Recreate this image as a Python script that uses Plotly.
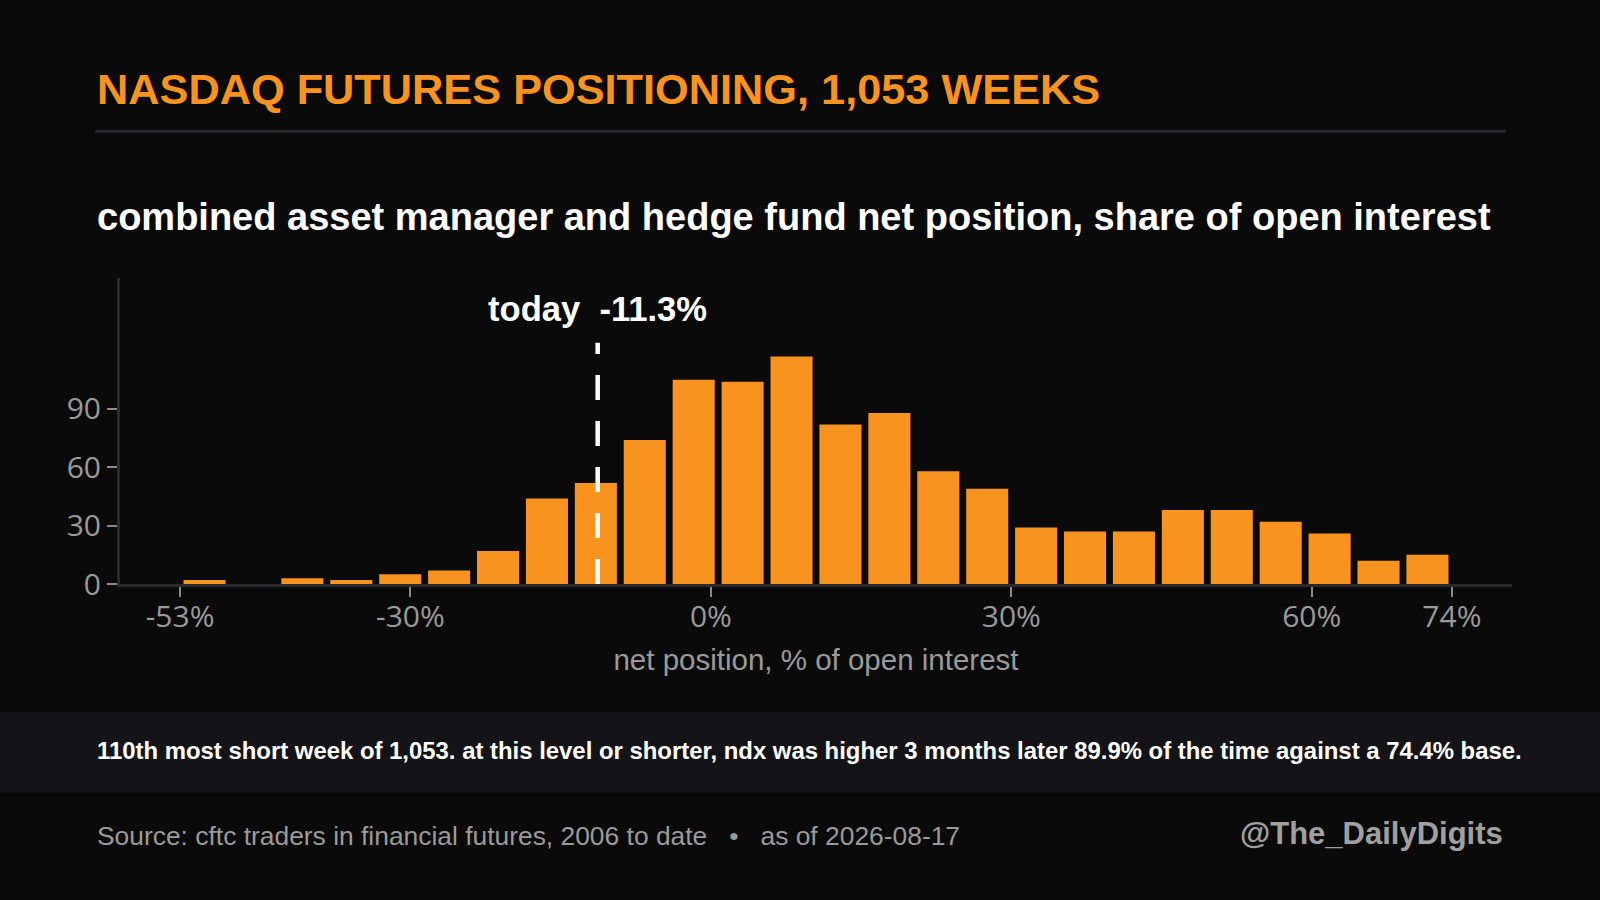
import numpy as np
import plotly.graph_objects as go

# histogram of weekly net positioning (% of open interest), 26 bins from min to max
bin_lo = -53.0
bin_hi = 74.0
counts = [2, 0, 3, 2, 5, 7, 17, 44, 52, 74, 105, 104, 117, 82, 88, 58, 49,
          29, 27, 27, 38, 38, 32, 26, 12, 15]
today = -11.3
x_ticks = [bin_lo, -30, 0, 30, 60, bin_hi]
y_ticks = [0, 30, 60, 90]

title = "NASDAQ FUTURES POSITIONING, 1,053 WEEKS"
subtitle = "combined asset manager and hedge fund net position, share of open interest"
note = ("110th most short week of 1,053. at this level or shorter, ndx was higher "
        "3 months later 89.9% of the time against a 74.4% base.")
source = "Source: cftc traders in financial futures, 2006 to date\u00a0\u00a0\u00a0•\u00a0\u00a0\u00a0as of 2026-08-17"
handle = "@The_DailyDigits"

ORANGE = "#F7931E"
BG = "#0a0a0a"
GREY = "#9a9a9a"

edges = np.linspace(bin_lo, bin_hi, len(counts) + 1)
centers = (edges[:-1] + edges[1:]) / 2
peak = max(counts)

# plot area in pixels, used to place the page furniture in paper coords
L, R, T, B = 120, 1512, 278, 584


def px(x):
    return (x - L) / (R - L)


def py(y):
    return (B - y) / (B - T)


fig = go.Figure()
fig.add_trace(go.Bar(x=centers, y=counts, marker=dict(color=ORANGE, line=dict(width=0)),
                     hoverinfo="x+y"))
fig.add_trace(go.Scatter(x=[today, today], y=[0, peak * 1.06], mode="lines",
                         line=dict(color="white", width=4.5, dash="25px,21px"),
                         hoverinfo="skip"))

fig.add_annotation(x=today, y=peak * 1.21, xref="x", yref="y",
                   text="today\u00a0\u00a0" + f"{today}%", showarrow=False,
                   xanchor="center", yanchor="middle",
                   font=dict(family="Liberation Sans", size=34.6, color="white", weight="bold"))

texts = [
    (title, 95, 88.6, "left", dict(size=43.3, color=ORANGE, weight="bold")),
    (subtitle, 95, 216.7, "left", dict(size=38, color="white", weight="bold")),
    (note, 95, 750.6, "left", dict(size=23.9, color="white", weight="bold")),
    (source, 95, 836, "left", dict(size=26.4, color=GREY)),
    (handle, 1505, 833, "right", dict(size=31, color="#a0a0a0", weight="bold")),
]
for txt, x, y, anchor, f in texts:
    fig.add_annotation(x=px(x), y=py(y), xref="paper", yref="paper", text=txt,
                       showarrow=False, xanchor=anchor, yanchor="middle",
                       font=dict(family="Liberation Sans", **f))

fig.add_shape(type="line", xref="paper", yref="paper", x0=px(95), x1=px(1506),
              y0=py(131.3), y1=py(131.3), line=dict(color="#27272c", width=3))
fig.add_shape(type="rect", xref="paper", yref="paper", x0=px(0), x1=px(1600),
              y0=py(712), y1=py(792.7), fillcolor="#141418", line=dict(width=0),
              layer="below")

axis_common = dict(showgrid=False, zeroline=False, showline=True, linecolor="#2a2a2e",
                   linewidth=3, ticks="outside", ticklen=10, tickwidth=2, tickcolor="#8a8a8a",
                   tickfont=dict(family="Open Sans", size=30, color=GREY))

fig.update_layout(
    width=1600, height=900,
    paper_bgcolor=BG, plot_bgcolor=BG,
    margin=dict(l=L, r=1600 - R, t=T, b=900 - B),
    showlegend=False, bargap=0.14,
    font=dict(family="Liberation Sans", color=GREY),
    xaxis=dict(range=[bin_lo - 6, bin_hi + 6], tickvals=x_ticks,
               ticktext=[f"{v:g}%" for v in x_ticks], ticklabelstandoff=-6,
               title=dict(text="net position, % of open interest", standoff=15,
                          font=dict(family="Liberation Sans", size=29.5, color=GREY)),
               **axis_common),
    yaxis=dict(range=[0, peak * 1.345], tickvals=y_ticks, **axis_common),
)

fig.write_html("out.html", config={"displayModeBar": False},
               post_script="document.body.style.margin='0';"
                           "document.body.style.background='#0a0a0a';")
